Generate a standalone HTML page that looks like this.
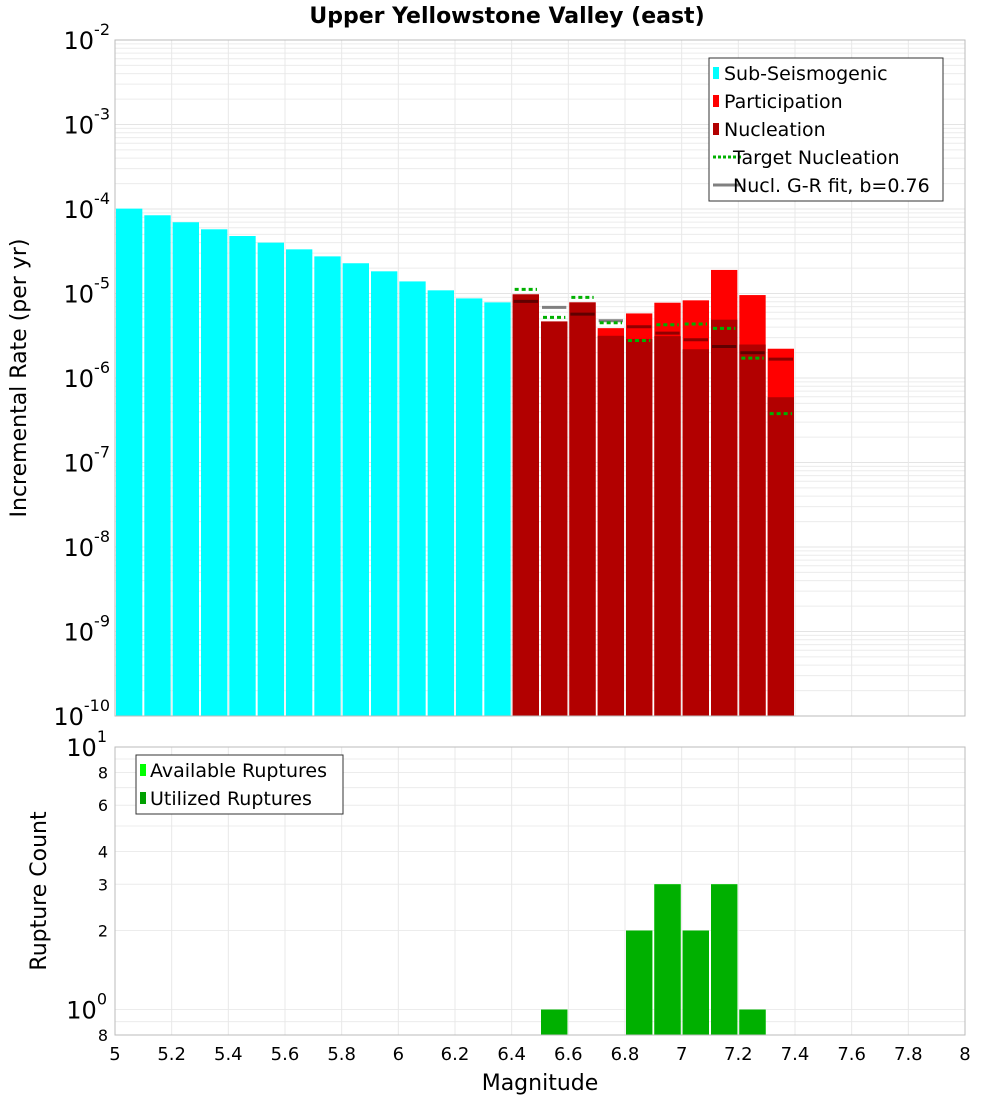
<!DOCTYPE html>
<html><head><meta charset="utf-8"><style>
body{margin:0;background:#fff;width:1000px;height:1100px;overflow:hidden}
svg text{font-family:"DejaVu Sans","Liberation Sans",sans-serif;fill:#000}
</style></head><body>
<svg id="c" width="1000" height="1100" xmlns="http://www.w3.org/2000/svg"></svg>
<script>
const subMags=[5.05,5.15,5.25,5.35,5.45,5.55,5.65,5.75,5.85,5.95,6.05,6.15,6.25,6.35];
const subRates=[1.01e-4,8.43e-5,6.97e-5,5.75e-5,4.79e-5,4.0e-5,3.33e-5,2.75e-5,2.28e-5,1.83e-5,1.39e-5,1.09e-5,8.75e-6,7.85e-6];
const faultMags=[6.45,6.55,6.65,6.75,6.85,6.95,7.05,7.15,7.25,7.35];
const partRates=[9.77e-6,4.67e-6,7.85e-6,3.89e-6,5.81e-6,7.78e-6,8.30e-6,1.90e-5,9.58e-6,2.22e-6];
const nuclRates=[9.77e-6,4.67e-6,7.85e-6,3.16e-6,2.90e-6,3.13e-6,2.19e-6,4.90e-6,2.49e-6,5.92e-7];
const targetRates=[1.12e-5,5.21e-6,9.0e-6,4.51e-6,2.78e-6,4.27e-6,4.35e-6,3.86e-6,1.72e-6,3.79e-7];
const grRates=[8.07e-6,6.85e-6,5.70e-6,4.76e-6,4.04e-6,3.40e-6,2.84e-6,2.36e-6,1.99e-6,1.67e-6];
const countMags=[6.55,6.85,6.95,7.05,7.15,7.25];
const availCounts=[1,2,3,2,3,1];
const usedCounts=[1,2,3,2,3,1];
const xTicks=[5,5.2,5.4,5.6,5.8,6,6.2,6.4,6.6,6.8,7,7.2,7.4,7.6,7.8,8];
const topExps=[-10,-9,-8,-7,-6,-5,-4,-3,-2];
const botTicks=[["10","1",10],["8","",8],["6","",6],["4","",4],["3","",3],["2","",2],["10","0",1],["8","",0.8]];

const NS="http://www.w3.org/2000/svg";
const svg=document.getElementById('c');
function mk(tag,attrs,parent){const e=document.createElementNS(NS,tag);for(const k in attrs)e.setAttribute(k,attrs[k]);(parent||svg).appendChild(e);return e;}
const L=115,R=965,T1=40,B1=716,T2=747,B2=1035;
const x=m=>L+(m-5)/3*(R-L);
const y1=v=>B1-(Math.log10(v)+10)/8*(B1-T1);
const lmin=Math.log10(0.8),lmax=1;
const y2=v=>B2-(Math.log10(v)-lmin)/(lmax-lmin)*(B2-T2);
const bw=(R-L)/30;

// top grid
const g1=mk('g',{});
for(let e=-10;e<-2;e++)for(let k=1;k<10;k++){const yy=y1(k*Math.pow(10,e));mk('line',{x1:L,x2:R,y1:yy,y2:yy,stroke:k==1?'#e4e4e4':'#ececec','stroke-width':1},g1);}
xTicks.forEach(t=>{mk('line',{x1:x(t),x2:x(t),y1:T1,y2:B1,stroke:'#e8e8e8'},g1);});
// bottom grid
const g2=mk('g',{});
[0.8,0.9,1,2,3,4,5,6,7,8,9,10].forEach(v=>{const yy=y2(v);mk('line',{x1:L,x2:R,y1:yy,y2:yy,stroke:'#ececec'},g2);});
xTicks.forEach(t=>{mk('line',{x1:x(t),x2:x(t),y1:T2,y2:B2,stroke:'#e8e8e8'},g2);});

// sub-seismogenic bars
subMags.forEach((m,i)=>{const yy=y1(subRates[i]);const r=mk('rect',{x:x(m)-bw/2+1,y:yy,width:bw-2,height:B1-yy,fill:'#00ffff'});
});
faultMags.forEach((m,i)=>{const yy=y1(partRates[i]);const r=mk('rect',{x:x(m)-bw/2+1,y:yy,width:bw-2,height:B1-yy,fill:'#ff0000'});
});
faultMags.forEach((m,i)=>{const yy=y1(nuclRates[i]);const r=mk('rect',{x:x(m)-bw/2+1,y:yy,width:bw-2,height:B1-yy,fill:'#b20000'});
});
faultMags.forEach((m,i)=>{const yy=y1(grRates[i]);const inside=grRates[i]<=partRates[i];
const l=mk('line',{x1:x(m)-bw/2+2,x2:x(m)+bw/2-2,y1:yy,y2:yy,stroke:inside?(grRates[i]<=nuclRates[i]?'#600000':'#900000'):'#808080','stroke-width':3});
});
faultMags.forEach((m,i)=>{const yy=y1(targetRates[i]);
const l=mk('line',{x1:x(m)-bw/2+3,x2:x(m)+bw/2-3,y1:yy,y2:yy,stroke:'#00b000','stroke-width':3,'stroke-dasharray':'4,3'});
});

// bottom bars
countMags.forEach((m,i)=>{const yy=y2(availCounts[i]);const r=mk('rect',{x:x(m)-bw/2+1,y:yy,width:bw-2,height:B2-yy,fill:'#00ff00'});
});
countMags.forEach((m,i)=>{const yy=y2(usedCounts[i]);const r=mk('rect',{x:x(m)-bw/2+1,y:yy,width:bw-2,height:B2-yy,fill:'#00b000'});
});

// frames
const f1=mk('rect',{x:L,y:T1,width:R-L,height:B1-T1,fill:'none',stroke:'#bbb'});
const f2=mk('rect',{x:L,y:T2,width:R-L,height:B2-T2,fill:'none',stroke:'#bbb'});

// top y tick labels
topExps.forEach(e=>{const yy=y1(Math.pow(10,e));const t=mk('text',{x:110,y:yy+9,'text-anchor':'end','font-size':24});

t.innerHTML='10<tspan dy="-14" font-size="16">'+e+'</tspan>';});
// bottom y tick labels
botTicks.forEach(b=>{const yy=y2(b[2]);const big=b[1]!=='';
const t=mk('text',{x:big?107:108,y:yy+(big?9:6),'text-anchor':'end','font-size':big?24:16});

t.innerHTML=big?b[0]+'<tspan dy="-14" font-size="16">'+b[1]+'</tspan>':b[0];});
// x tick labels
xTicks.forEach(v=>{const t=mk('text',{x:x(v),y:1060,'text-anchor':'middle','font-size':18});
t.textContent=String(v);});

// legends
const lg=mk('g',{});
mk('rect',{x:709,y:58,width:234,height:143,fill:'#fff',stroke:'#333'},lg);
[['Sub-Seismogenic','#00ffff','sq'],['Participation','#ff0000','sq'],['Nucleation','#b20000','sq'],['Target Nucleation','#00b000','dash'],['Nucl. G-R fit, b=0.76','#808080','line']].forEach((it,i)=>{
const yy=73+i*28;
if(it[2]=='sq')mk('rect',{x:713,y:yy-6,width:6,height:12,fill:it[1]},lg);
else mk('line',{x1:713,x2:741,y1:yy,y2:yy,stroke:it[1],'stroke-width':3,'stroke-dasharray':it[2]=='dash'?'3,2':''},lg);
const t=mk('text',{x:it[2]=='sq'?724:733,y:yy+7,'font-size':19},lg);t.textContent=it[0];});
const lg2=mk('g',{});
mk('rect',{x:136,y:755,width:207,height:59,fill:'#fff',stroke:'#333'},lg2);
[['Available Ruptures','#00ff00'],['Utilized Ruptures','#00a000']].forEach((it,i)=>{const yy=770+i*28;
mk('rect',{x:140,y:yy-6,width:6,height:12,fill:it[1]},lg2);
const t=mk('text',{x:150,y:yy+7,'font-size':19},lg2);t.textContent=it[0];});
</script>
<svg width="1000" height="1100" style="position:absolute;left:0;top:0" xmlns="http://www.w3.org/2000/svg">
<text x="507" y="23" text-anchor="middle" font-size="22" font-weight="bold">Upper Yellowstone Valley (east)</text>
<text transform="translate(26,378) rotate(-90)" text-anchor="middle" font-size="22">Incremental Rate (per yr)</text>
<text transform="translate(46,891) rotate(-90)" text-anchor="middle" font-size="22">Rupture Count</text>
<text x="540" y="1090" text-anchor="middle" font-size="22">Magnitude</text>
</svg>
</body></html>
